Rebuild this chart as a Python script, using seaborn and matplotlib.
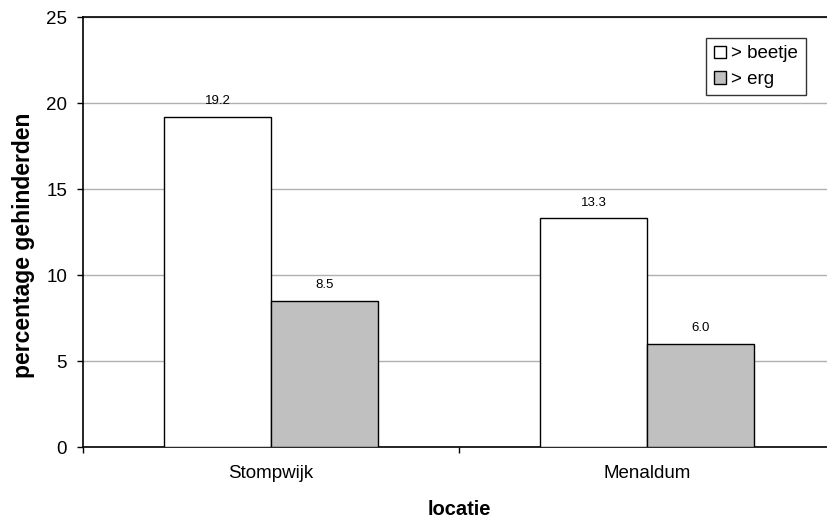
import matplotlib
matplotlib.use("Agg")
import matplotlib.pyplot as plt
import seaborn as sns
import pandas as pd
from matplotlib.patches import Patch

# Data
locaties = ["Stompwijk", "Menaldum"]
reeksen = ["> beetje", "> erg"]
beetje = [19.2, 13.3]
erg = [8.5, 6.0]

df = pd.DataFrame({
    "locatie": locaties * 2,
    "reeks": [reeksen[0]] * 2 + [reeksen[1]] * 2,
    "waarde": beetje + erg,
})

sns.set_theme(style="white")
plt.rcParams["font.family"] = ["Liberation Sans", "DejaVu Sans"]
plt.rcParams["text.color"] = "black"
plt.rcParams["axes.labelcolor"] = "black"
plt.rcParams["xtick.color"] = "black"
plt.rcParams["ytick.color"] = "black"

fig = plt.figure(figsize=(8.27, 5.21), dpi=100)
ax = fig.add_axes([83 / 827, 1 - 447 / 521, (835 - 83) / 827, (447 - 17) / 521])

kleuren = {reeksen[0]: "white", reeksen[1]: "#c0c0c0"}
sns.barplot(data=df, x="locatie", y="waarde", hue="reeks", order=locaties,
            hue_order=reeksen, palette=kleuren, width=0.57, edgecolor="black",
            linewidth=1.0, ax=ax, legend=False, zorder=3)

# value labels above bars
for cont in ax.containers:
    ax.bar_label(cont, fmt="%.1f", padding=7, fontsize=9.5, color="black")

ax.set_ylim(0, 25)
ax.set_xlim(-0.5, 1.5)
ax.set_yticks([0, 5, 10, 15, 20, 25])
ax.yaxis.grid(True, color="#b0b0b0", linewidth=1.0, zorder=0)
ax.set_axisbelow(True)

# category boundaries as tick marks, names centred between them
ax.set_xticks([-0.5, 0.5, 1.5])
ax.set_xticklabels([])
ax.set_xticks([0, 1], minor=True)
ax.set_xticklabels(locaties, minor=True)
ax.tick_params(axis="x", which="major", length=4.5, width=1, color="black", direction="out", bottom=True)
ax.tick_params(axis="x", which="minor", length=0, pad=13, labelsize=13.5, labelcolor="black")
ax.tick_params(axis="y", length=4.5, width=1, color="black", direction="out", left=True,
               labelsize=13.5, pad=7, labelcolor="black")

for s in ["left", "bottom", "top"]:
    ax.spines[s].set_visible(True)
    ax.spines[s].set_color("black")
    ax.spines[s].set_linewidth(1.2)
ax.spines["right"].set_visible(False)

ax.set_xlabel("locatie", fontsize=14.5, fontweight="bold", labelpad=13, color="black")
ax.set_ylabel("percentage gehinderden", fontsize=16.5, fontweight="bold", color="black")
ax.yaxis.set_label_coords(-48 / 752, 0.47)

handles = [Patch(facecolor=kleuren[r], edgecolor="black", linewidth=1.0) for r in reeksen]
leg = ax.legend(handles, reeksen, loc="upper left", bbox_to_anchor=(706 / 827, 1 - 38 / 521),
                bbox_transform=fig.transFigure, frameon=True, fancybox=False,
                fontsize=13.5, handlelength=0.65, handleheight=0.65, handletextpad=0.3,
                borderpad=0.4, labelspacing=0.45, borderaxespad=0)
leg.get_frame().set_edgecolor("black")
leg.get_frame().set_linewidth(1.0)
for t in leg.get_texts():
    t.set_color("black")

fig.savefig("out.png", dpi=100)
